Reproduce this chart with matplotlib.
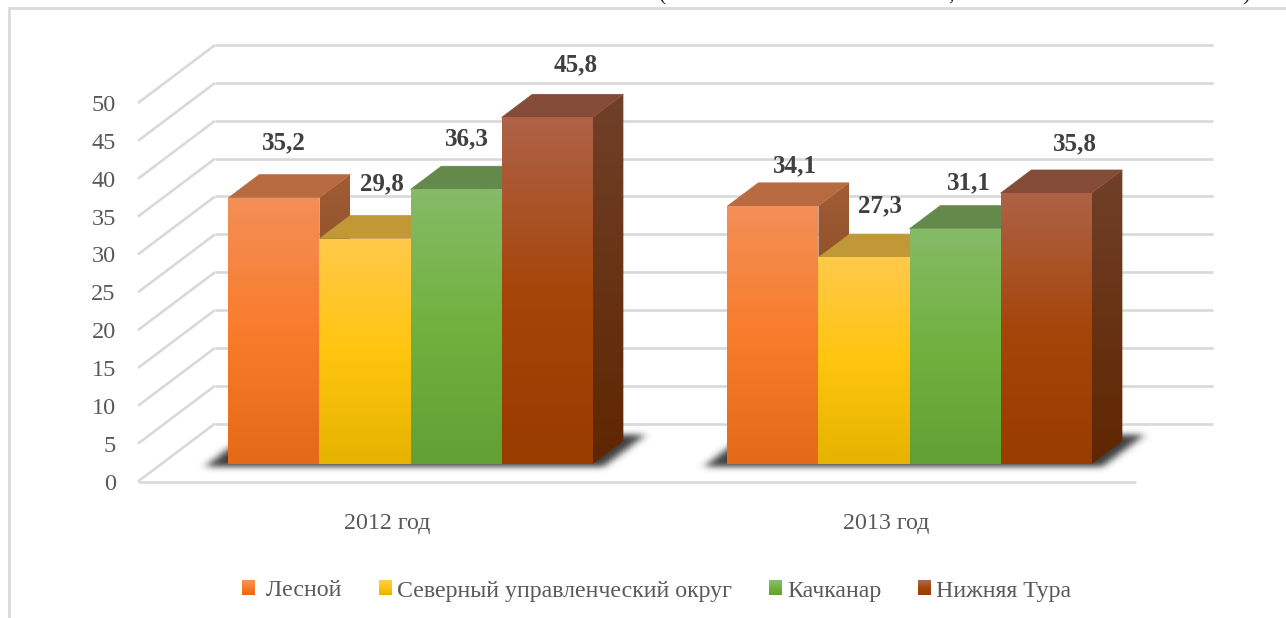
import numpy as np
import matplotlib
matplotlib.use('Agg')
import matplotlib.pyplot as plt
from matplotlib.legend_handler import HandlerBase
from matplotlib.patches import Patch, Polygon, Rectangle
from matplotlib.colors import LinearSegmentedColormap

plt.rcParams['font.family'] = ['Liberation Serif', 'DejaVu Serif']

# data
years = ['2012 год', '2013 год']
series_names = ['Лесной', 'Северный управленческий округ', 'Качканар', 'Нижняя Тура']
values_2012 = [35.2, 29.8, 36.3, 45.8]
values_2013 = [34.1, 27.3, 31.1, 35.8]
yticks = [0, 5, 10, 15, 20, 25, 30, 35, 40, 45, 50]

# colours: front gradient (top, middle, bottom), top face, side gradient
front_colors = [['#F38F57', '#F97C2B', '#E46A17'],
                ['#FFC94A', '#FFC50F', '#E5B300'],
                ['#86BB67', '#70B13F', '#62A034'],
                ['#AE6247', '#A5450A', '#993C00']]
top_colors = ['#B86B40', '#C19836', '#638A4B', '#844B37']
side_colors = [['#A05C35', '#6E3A12'],
               ['#A88420', '#7A6000'],
               ['#5C8044', '#3F6A20'],
               ['#704029', '#5F2600']]

# label offsets from the front top centre of a bar, pixels
label_offsets = [[(10, 55), (17, 55), (11, 51), (29, 53)],
                 [(22, 40), (16, 52), (14, 46), (29, 49)]]

GRID = '#D9D9D9'
W, H = 1286, 618
DX = 77 / 499      # shift of the back wall along x, in category units
DY = 58 / 7.58     # shift of the back wall along y, in value units
BAR_W = 0.1824
FIRST = 0.135
D_FRONT, D_BACK = 0.3, 0.7


def px(x, y, d=0):
    return x + d * DX, y + d * DY


def fade(colors):
    return LinearSegmentedColormap.from_list('f', colors)


def gradient(ax, x0, x1, y0, y1, cmap, clip):
    g = np.linspace(0, 1, 200).reshape(-1, 1)
    im = ax.imshow(g, extent=(x0, x1, y0, y1), origin='upper', aspect='auto', cmap=cmap,
                   zorder=5, interpolation='bilinear')
    poly = Polygon(clip, closed=True, transform=ax.transData, fill=False, edgecolor='none')
    im.set_clip_box(ax.figure.bbox)
    im.set_clip_path(poly)


def draw_shadow(ax, x0, x1):
    # blurred footprint of a group of bars, on the floor
    xs = np.linspace(x0 - 0.12, x1 + 0.27, 400)
    ys = np.linspace(-1.5, 9.5, 150)
    gx, gy = np.meshgrid(xs, ys)
    depth = gy / DY
    base = gx - depth * DX
    mask = ((depth > 0.25) & (depth < 0.8) & (base > x0 - 0.04) & (base < x1 + 0.03)).astype(float)
    # about 4 px of blur in both directions
    kx = np.exp(-0.5 * (np.arange(-12, 13) / 3.0) ** 2)
    ky = np.exp(-0.5 * (np.arange(-18, 19) / 5.5) ** 2)
    mask = np.apply_along_axis(lambda r: np.convolve(r, kx / kx.sum(), mode='same'), 1, mask)
    mask = np.apply_along_axis(lambda r: np.convolve(r, ky / ky.sum(), mode='same'), 0, mask)
    rgba = np.zeros(mask.shape + (4,))
    rgba[..., :3] = 0.2
    rgba[..., 3] = mask * 0.95
    im = ax.imshow(rgba, extent=(xs[0], xs[-1], ys[0], ys[-1]), origin='lower', aspect='auto', zorder=3)
    im.set_clip_on(False)


def draw_bar(ax, x, v, i):
    x1 = x + BAR_W
    fl, fb = px(x, 0, D_FRONT), px(x1, 0, D_FRONT)
    tl, tr = px(x, v, D_FRONT), px(x1, v, D_FRONT)
    bl, br = px(x, v, D_BACK), px(x1, v, D_BACK)
    low = px(x1, 0, D_BACK)
    # side face, then top face, then front
    gradient(ax, tr[0], br[0], fb[1], br[1], fade(side_colors[i]), [tr, br, low, fb])
    ax.add_patch(Polygon([tl, tr, br, bl], closed=True, facecolor=top_colors[i], edgecolor=top_colors[i],
                         linewidth=0.4, zorder=5, clip_on=False))
    gradient(ax, fl[0], fb[0], fl[1], tl[1], fade(front_colors[i]), [fl, fb, tr, tl])


class GradientBox(HandlerBase):
    def create_artists(self, legend, orig_handle, xdescent, ydescent, width, height, fontsize, trans):
        cmap = fade(orig_handle.grad)
        n = 13
        out = []
        for k in range(n):
            out.append(Rectangle((-xdescent, -ydescent + height * (n - 1 - k) / n), width, height / n + 0.3,
                                 facecolor=cmap(k / (n - 1)), edgecolor='none', transform=trans))
        return out


fig = plt.figure(figsize=(W / 100, H / 100), dpi=100)
fig.patches.append(Rectangle((9 / W, -0.1), 1.2, 1.1 - 8.5 / H, transform=fig.transFigure,
                             fill=False, edgecolor=GRID, linewidth=2.0))

# plane of the value axis: x 138..1136, y 481.5..103
ax = fig.add_axes([138 / W, 1 - 481.5 / H, 998 / W, 378.5 / H])

# walls and floor
for t in yticks:
    ax.plot(*zip(px(0, t), px(0, t, 1)), color=GRID, lw=1.9, zorder=1, clip_on=False, solid_capstyle='butt')
    ax.plot(*zip(px(0, t, 1), px(2, t, 1)), color=GRID, lw=1.9, zorder=1, clip_on=False, solid_capstyle='butt')
ax.plot([0, 2], [0, 0], color=GRID, lw=1.9, zorder=1, clip_on=False, solid_capstyle='butt')

for g, vals in enumerate([values_2012, values_2013]):
    start = g + FIRST
    draw_shadow(ax, start, start + BAR_W * len(vals))
    for i, v in enumerate(vals):
        x = start + i * BAR_W
        draw_bar(ax, x, v, i)
    for i, v in enumerate(vals):
        x = start + i * BAR_W
        dx, dy = label_offsets[g][i]
        ax.annotate(f'{v:.1f}'.replace('.', ','), xy=px(x + BAR_W / 2, v, D_FRONT), xytext=(dx, dy),
                    textcoords='offset pixels', ha='center', va='center', fontsize=18,
                    fontweight='bold', color='#404040', zorder=8)

ax.set_xlim(0, 2)
ax.set_ylim(0, 50)
ax.set_xticks([0.5, 1.5], years)
ax.set_yticks(yticks, [str(t) for t in yticks])
ax.tick_params(axis='y', length=0, pad=16, labelsize=17.5, labelcolor='#595959')
ax.tick_params(axis='x', length=0, pad=22.5, labelsize=17.3, labelcolor='#595959')
for s in ax.spines.values():
    s.set_visible(False)
ax.patch.set_visible(False)

handles = []
for i, name in enumerate(series_names):
    h = Patch(label=(' ' + name) if i == 0 else name)
    h.grad = front_colors[i]
    handles.append(h)
fig.legend(handles=handles, loc='center left', bbox_to_anchor=(223 / W, 1 - 591 / H), ncol=4, frameon=False,
           fontsize=17.2, labelcolor='#595959', handler_map={Patch: GradientBox()},
           handlelength=0.55, handleheight=0.55, handletextpad=0.21, columnspacing=1.55, borderpad=0.3)

# bottom of the cut off line of text above the chart
for x, s in zip([663, 951, 1246], ['(', ',', ')']):
    fig.text(x / W, 1.0, s, ha='center', va='baseline', fontsize=16, color='#222222')

fig.savefig('out.png', dpi=100)
